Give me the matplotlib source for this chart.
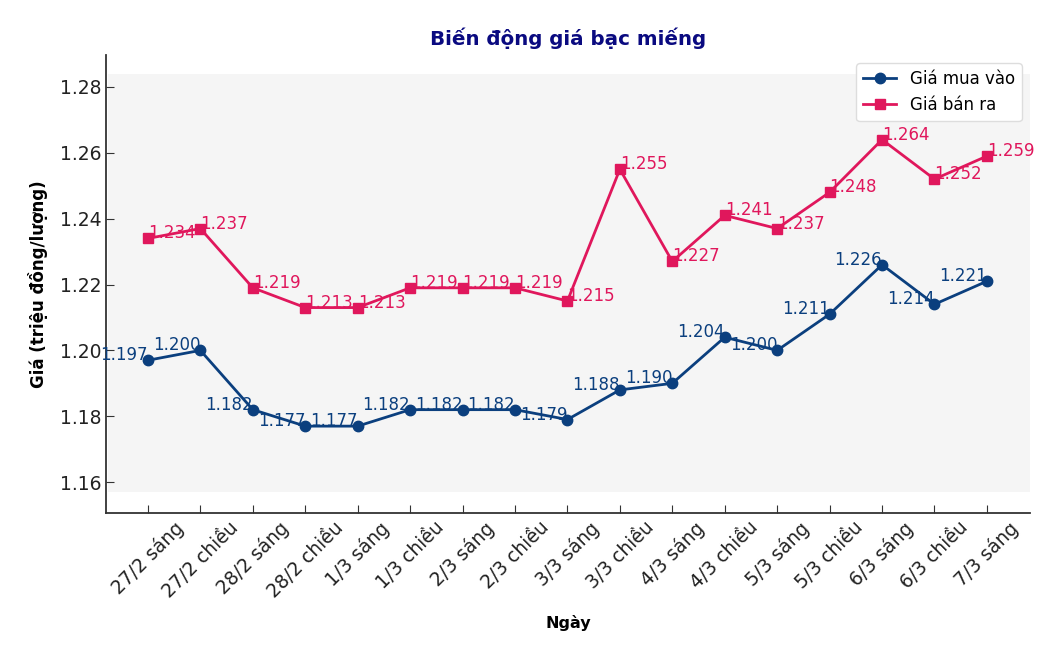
import matplotlib
matplotlib.use("Agg")
import matplotlib.pyplot as plt

plt.rcParams['font.family'] = ['DejaVu Sans']

ngay = ['27/2 sáng', '27/2 chiều', '28/2 sáng', '28/2 chiều', '1/3 sáng', '1/3 chiều',
        '2/3 sáng', '2/3 chiều', '3/3 sáng', '3/3 chiều', '4/3 sáng', '4/3 chiều',
        '5/3 sáng', '5/3 chiều', '6/3 sáng', '6/3 chiều', '7/3 sáng']
gia_mua = [1.197, 1.200, 1.182, 1.177, 1.177, 1.182, 1.182, 1.182, 1.179,
           1.188, 1.190, 1.204, 1.200, 1.211, 1.226, 1.214, 1.221]
gia_ban = [1.234, 1.237, 1.219, 1.213, 1.213, 1.219, 1.219, 1.219, 1.215,
           1.255, 1.227, 1.241, 1.237, 1.248, 1.264, 1.252, 1.259]

mau_mua = '#0b3f7e'
mau_ban = '#e0175c'

fig = plt.figure(figsize=(10.62, 6.47), dpi=100)
ax = fig.add_axes([0.0998, 0.207, 0.870, 0.708])
x = list(range(len(ngay)))

# nen xam
lo = min(gia_mua) - 0.02
hi = max(gia_ban) + 0.02
ax.axhspan(lo, hi, xmin=0.002, xmax=1.0, color='#f5f5f5', zorder=0, lw=0)

ax.plot(x, gia_mua, marker='o', color=mau_mua, lw=2, ms=7.5, label='Giá mua vào', zorder=3)
ax.plot(x, gia_ban, marker='s', color=mau_ban, lw=2, ms=7, label='Giá bán ra', zorder=3)

for i in x:
    ax.text(i, gia_mua[i], f'{gia_mua[i]:.3f}', color=mau_mua, fontsize=12,
            ha='right', va='baseline', zorder=4)
    ax.text(i, gia_ban[i], f'{gia_ban[i]:.3f}', color=mau_ban, fontsize=12,
            ha='left', va='baseline', zorder=4)

ax.set_xlim(-0.8, 16.82)
ax.set_ylim(1.1506, 1.2897)
ax.set_xticks(x)
ax.set_xticklabels(ngay, rotation=45, fontsize=13.5, color='#222222')
ax.set_yticks([1.16, 1.18, 1.20, 1.22, 1.24, 1.26, 1.28])
ax.tick_params(axis='y', labelsize=13.5, labelcolor='#222222')
ax.tick_params(direction='in', length=6, color='#333333')
ax.set_facecolor('white')
for s in ['top', 'right']:
    ax.spines[s].set_visible(False)
for s in ['left', 'bottom']:
    ax.spines[s].set_color('#333333')
    ax.spines[s].set_linewidth(1.3)

ax.set_title('Biến động giá bạc miếng', fontsize=14.3, fontweight='bold', color='#0a0a80', pad=7)
ax.set_xlabel('Ngày', fontsize=11.5, fontweight='bold', labelpad=10)
ax.set_ylabel('Giá (triệu đồng/lượng)', fontsize=12, fontweight='bold', labelpad=8)
ax.legend(loc='upper right', fontsize=12, bbox_to_anchor=(1.0, 1.0), framealpha=1,
          edgecolor='#dddddd', handlelength=2)

fig.savefig('out.png', dpi=100)
